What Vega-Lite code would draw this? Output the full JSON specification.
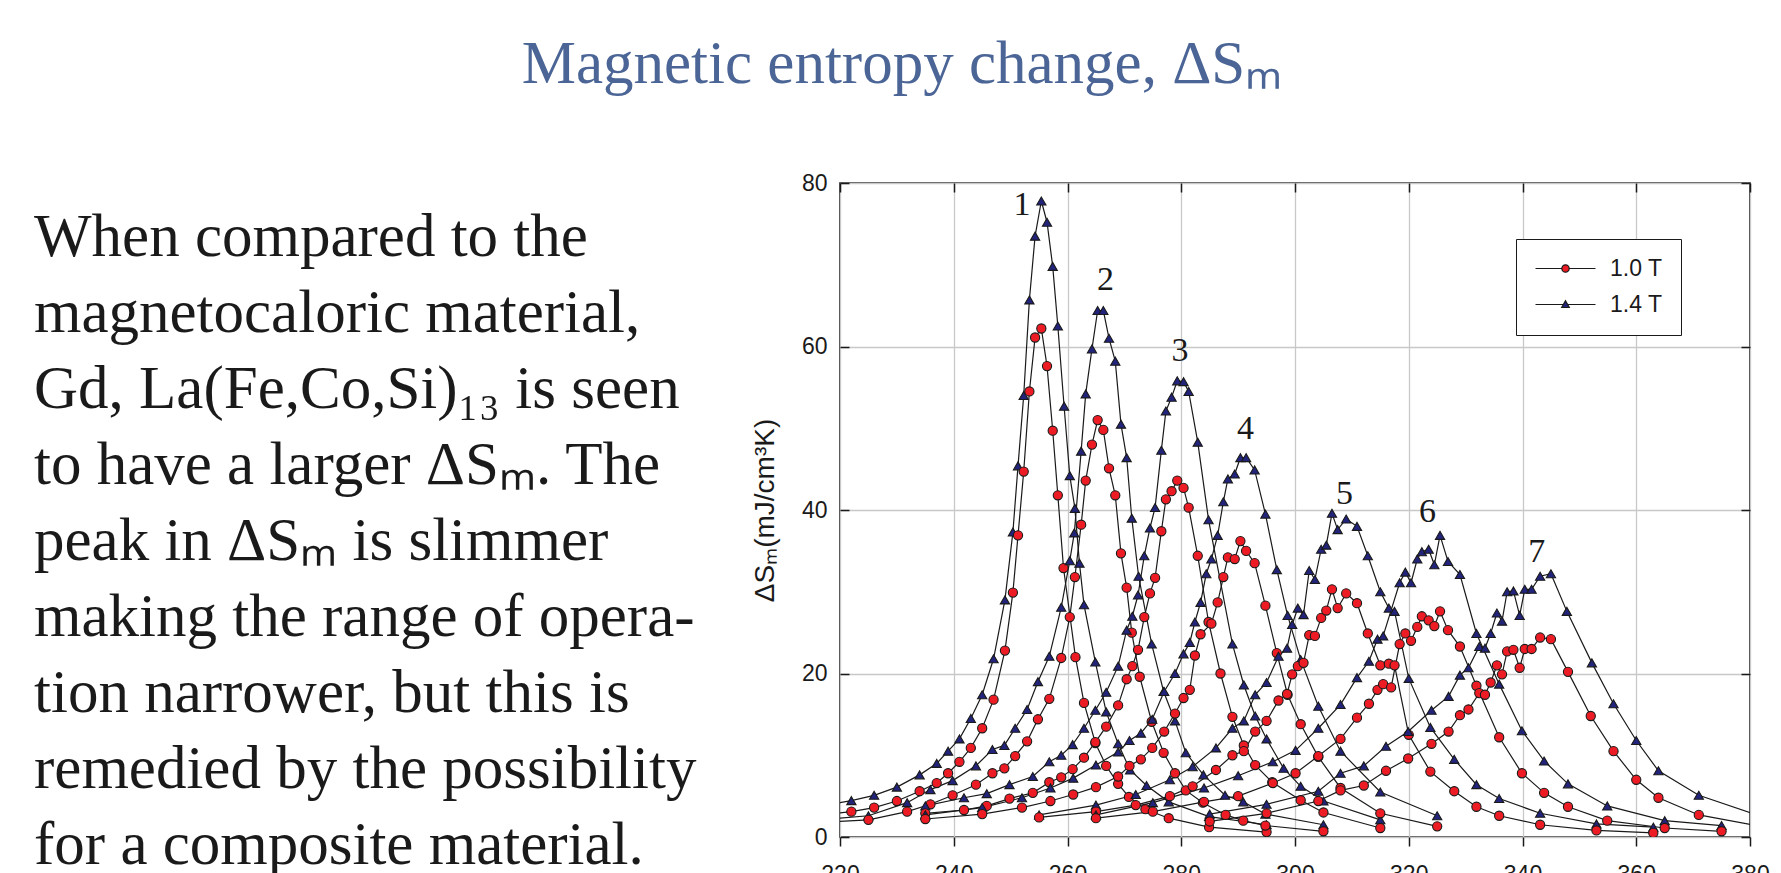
{
"$schema":"https://vega.github.io/schema/vega-lite/v6.json",
"padding":{"left":34,"top":34,"right":0,"bottom":0},
"background":"white",
"title":{"text":"Magnetic entropy change, ΔSₘ","font":"Liberation Serif","fontSize":61,"fontWeight":"normal","color":"#4b6596","anchor":"middle","offset":75},
"config":{"view":{"stroke":null},"concat":{"spacing":0}},
"datasets":{
"lines":[
{"n":1,"line":"When compared to the"},
{"n":2,"line":"magnetocaloric material,"},
{"n":3,"line":"Gd, La(Fe,Co,Si)₁₃ is seen"},
{"n":4,"line":"to have a larger ΔSₘ. The"},
{"n":5,"line":"peak in ΔSₘ is slimmer"},
{"n":6,"line":"making the range of opera-"},
{"n":7,"line":"tion narrower, but this is"},
{"n":8,"line":"remedied by the possibility"},
{"n":9,"line":"for a composite material."}
],
"peaks":[
{"k":"1","t":252.0,"v":77.3},{"k":"2","t":266.7,"v":68.1},{"k":"3","t":279.8,"v":59.4},{"k":"4","t":291.3,"v":49.9},{"k":"5","t":308.7,"v":42.0},{"k":"6","t":323.3,"v":39.7},{"k":"7","t":342.5,"v":34.9}
],
"curves":[
{"s":1,"f":"1.4 T","t":215,"v":3.6},{"s":1,"f":"1.4 T","t":222,"v":4.45},{"s":1,"f":"1.4 T","t":226,"v":5.1},{"s":1,"f":"1.4 T","t":230,"v":6.1},{"s":1,"f":"1.4 T","t":234,"v":7.6},{"s":1,"f":"1.4 T","t":237,"v":9.0},{"s":1,"f":"1.4 T","t":239,"v":10.5},{"s":1,"f":"1.4 T","t":241,"v":12.0},{"s":1,"f":"1.4 T","t":243,"v":14.5},{"s":1,"f":"1.4 T","t":245,"v":17.4},{"s":1,"f":"1.4 T","t":247,"v":21.8},{"s":1,"f":"1.4 T","t":249,"v":29.0},{"s":1,"f":"1.4 T","t":250.4,"v":37.3},{"s":1,"f":"1.4 T","t":251.3,"v":45.4},{"s":1,"f":"1.4 T","t":252.3,"v":54.0},{"s":1,"f":"1.4 T","t":253.3,"v":65.7},{"s":1,"f":"1.4 T","t":254.3,"v":73.5},{"s":1,"f":"1.4 T","t":255.4,"v":77.8},{"s":1,"f":"1.4 T","t":256.4,"v":75.2},{"s":1,"f":"1.4 T","t":257.4,"v":69.8},{"s":1,"f":"1.4 T","t":258.3,"v":62.5},{"s":1,"f":"1.4 T","t":259.4,"v":52.7},{"s":1,"f":"1.4 T","t":260.4,"v":44.2},{"s":1,"f":"1.4 T","t":261.3,"v":40.2},{"s":1,"f":"1.4 T","t":262.1,"v":33.5},{"s":1,"f":"1.4 T","t":262.9,"v":28.4},{"s":1,"f":"1.4 T","t":264.9,"v":21.4},{"s":1,"f":"1.4 T","t":266.8,"v":15.3},{"s":1,"f":"1.4 T","t":268.9,"v":11.4},{"s":1,"f":"1.4 T","t":271,"v":8.2},{"s":1,"f":"1.4 T","t":273.9,"v":6.3},{"s":1,"f":"1.4 T","t":277.8,"v":4.3},{"s":1,"f":"1.4 T","t":284.9,"v":2.5},{"s":1,"f":"1.4 T","t":295,"v":1.5},
{"s":1,"f":"1.0 T","t":215,"v":2.6},{"s":1,"f":"1.0 T","t":222,"v":3.1},{"s":1,"f":"1.0 T","t":226,"v":3.6},{"s":1,"f":"1.0 T","t":230,"v":4.4},{"s":1,"f":"1.0 T","t":234,"v":5.6},{"s":1,"f":"1.0 T","t":237,"v":6.6},{"s":1,"f":"1.0 T","t":239,"v":7.8},{"s":1,"f":"1.0 T","t":241,"v":9.2},{"s":1,"f":"1.0 T","t":243,"v":10.9},{"s":1,"f":"1.0 T","t":245,"v":13.3},{"s":1,"f":"1.0 T","t":247,"v":16.8},{"s":1,"f":"1.0 T","t":249,"v":22.8},{"s":1,"f":"1.0 T","t":250.4,"v":29.9},{"s":1,"f":"1.0 T","t":251.3,"v":36.9},{"s":1,"f":"1.0 T","t":252.3,"v":44.7},{"s":1,"f":"1.0 T","t":253.3,"v":54.5},{"s":1,"f":"1.0 T","t":254.3,"v":61.1},{"s":1,"f":"1.0 T","t":255.4,"v":62.2},{"s":1,"f":"1.0 T","t":256.4,"v":57.6},{"s":1,"f":"1.0 T","t":257.4,"v":49.7},{"s":1,"f":"1.0 T","t":258.3,"v":41.8},{"s":1,"f":"1.0 T","t":259.3,"v":32.9},{"s":1,"f":"1.0 T","t":261.4,"v":22.0},{"s":1,"f":"1.0 T","t":262.9,"v":16.4},{"s":1,"f":"1.0 T","t":264.9,"v":11.5},{"s":1,"f":"1.0 T","t":266.8,"v":8.7},{"s":1,"f":"1.0 T","t":268.9,"v":6.5},{"s":1,"f":"1.0 T","t":270.8,"v":4.9},{"s":1,"f":"1.0 T","t":273.7,"v":3.4},{"s":1,"f":"1.0 T","t":277.8,"v":2.3},{"s":1,"f":"1.0 T","t":284.9,"v":1.2},{"s":1,"f":"1.0 T","t":295,"v":0.6},
{"s":2,"f":"1.4 T","t":215,"v":2.0},{"s":2,"f":"1.4 T","t":225,"v":2.6},{"s":2,"f":"1.4 T","t":231.8,"v":4.2},{"s":2,"f":"1.4 T","t":235.9,"v":5.8},{"s":2,"f":"1.4 T","t":239.8,"v":6.9},{"s":2,"f":"1.4 T","t":243.9,"v":8.7},{"s":2,"f":"1.4 T","t":246.8,"v":10.7},{"s":2,"f":"1.4 T","t":248.9,"v":11.2},{"s":2,"f":"1.4 T","t":250.8,"v":13.3},{"s":2,"f":"1.4 T","t":252.9,"v":15.6},{"s":2,"f":"1.4 T","t":254.8,"v":19.0},{"s":2,"f":"1.4 T","t":256.8,"v":22.1},{"s":2,"f":"1.4 T","t":258.9,"v":28.1},{"s":2,"f":"1.4 T","t":260.4,"v":33.8},{"s":2,"f":"1.4 T","t":261.2,"v":37.2},{"s":2,"f":"1.4 T","t":262.4,"v":47.2},{"s":2,"f":"1.4 T","t":263.2,"v":54.2},{"s":2,"f":"1.4 T","t":264.3,"v":59.7},{"s":2,"f":"1.4 T","t":265.3,"v":64.4},{"s":2,"f":"1.4 T","t":266.3,"v":64.4},{"s":2,"f":"1.4 T","t":267.3,"v":61.0},{"s":2,"f":"1.4 T","t":268.4,"v":58.2},{"s":2,"f":"1.4 T","t":269.4,"v":50.5},{"s":2,"f":"1.4 T","t":270.4,"v":46.4},{"s":2,"f":"1.4 T","t":271.3,"v":39.0},{"s":2,"f":"1.4 T","t":272.5,"v":31.9},{"s":2,"f":"1.4 T","t":274.8,"v":23.6},{"s":2,"f":"1.4 T","t":276.9,"v":17.8},{"s":2,"f":"1.4 T","t":278.9,"v":14.2},{"s":2,"f":"1.4 T","t":280.8,"v":10.3},{"s":2,"f":"1.4 T","t":283.9,"v":7.6},{"s":2,"f":"1.4 T","t":287.7,"v":5.1},{"s":2,"f":"1.4 T","t":290.9,"v":4.3},{"s":2,"f":"1.4 T","t":294.8,"v":2.8},{"s":2,"f":"1.4 T","t":305,"v":1.5},
{"s":2,"f":"1.0 T","t":215,"v":1.7},{"s":2,"f":"1.0 T","t":225,"v":2.1},{"s":2,"f":"1.0 T","t":231.8,"v":3.1},{"s":2,"f":"1.0 T","t":235.9,"v":4.0},{"s":2,"f":"1.0 T","t":239.8,"v":5.1},{"s":2,"f":"1.0 T","t":243.9,"v":6.4},{"s":2,"f":"1.0 T","t":246.8,"v":7.8},{"s":2,"f":"1.0 T","t":248.9,"v":8.4},{"s":2,"f":"1.0 T","t":250.8,"v":9.9},{"s":2,"f":"1.0 T","t":252.9,"v":11.7},{"s":2,"f":"1.0 T","t":254.8,"v":14.4},{"s":2,"f":"1.0 T","t":256.8,"v":16.9},{"s":2,"f":"1.0 T","t":258.9,"v":21.9},{"s":2,"f":"1.0 T","t":260.4,"v":26.9},{"s":2,"f":"1.0 T","t":261.3,"v":31.8},{"s":2,"f":"1.0 T","t":262.4,"v":38.2},{"s":2,"f":"1.0 T","t":263.2,"v":43.6},{"s":2,"f":"1.0 T","t":264.3,"v":48.0},{"s":2,"f":"1.0 T","t":265.3,"v":51.0},{"s":2,"f":"1.0 T","t":266.3,"v":49.8},{"s":2,"f":"1.0 T","t":267.3,"v":45.1},{"s":2,"f":"1.0 T","t":268.4,"v":41.8},{"s":2,"f":"1.0 T","t":269.4,"v":34.7},{"s":2,"f":"1.0 T","t":270.4,"v":30.5},{"s":2,"f":"1.0 T","t":271.3,"v":25.0},{"s":2,"f":"1.0 T","t":272.7,"v":19.6},{"s":2,"f":"1.0 T","t":274.8,"v":14.1},{"s":2,"f":"1.0 T","t":276.9,"v":10.3},{"s":2,"f":"1.0 T","t":278.9,"v":7.8},{"s":2,"f":"1.0 T","t":280.8,"v":5.7},{"s":2,"f":"1.0 T","t":283.8,"v":4.2},{"s":2,"f":"1.0 T","t":287.8,"v":2.7},{"s":2,"f":"1.0 T","t":290.9,"v":2.0},{"s":2,"f":"1.0 T","t":294.8,"v":1.4},{"s":2,"f":"1.0 T","t":305,"v":0.7},
{"s":3,"f":"1.4 T","t":235,"v":3.8},{"s":3,"f":"1.4 T","t":241.8,"v":4.8},{"s":3,"f":"1.4 T","t":245.8,"v":5.3},{"s":3,"f":"1.4 T","t":249.8,"v":6.4},{"s":3,"f":"1.4 T","t":253.9,"v":7.4},{"s":3,"f":"1.4 T","t":256.8,"v":9.2},{"s":3,"f":"1.4 T","t":258.9,"v":10.0},{"s":3,"f":"1.4 T","t":260.9,"v":11.3},{"s":3,"f":"1.4 T","t":262.9,"v":13.3},{"s":3,"f":"1.4 T","t":264.9,"v":15.5},{"s":3,"f":"1.4 T","t":266.8,"v":17.7},{"s":3,"f":"1.4 T","t":268.9,"v":20.9},{"s":3,"f":"1.4 T","t":270.4,"v":25.3},{"s":3,"f":"1.4 T","t":271.4,"v":27.0},{"s":3,"f":"1.4 T","t":272.4,"v":29.6},{"s":3,"f":"1.4 T","t":273.5,"v":34.4},{"s":3,"f":"1.4 T","t":274.5,"v":37.8},{"s":3,"f":"1.4 T","t":275.4,"v":40.3},{"s":3,"f":"1.4 T","t":276.5,"v":47.3},{"s":3,"f":"1.4 T","t":277.3,"v":52.1},{"s":3,"f":"1.4 T","t":278.3,"v":53.8},{"s":3,"f":"1.4 T","t":279.3,"v":55.8},{"s":3,"f":"1.4 T","t":280.4,"v":55.7},{"s":3,"f":"1.4 T","t":281.3,"v":54.5},{"s":3,"f":"1.4 T","t":282.9,"v":48.3},{"s":3,"f":"1.4 T","t":284.8,"v":38.8},{"s":3,"f":"1.4 T","t":289,"v":23.6},{"s":3,"f":"1.4 T","t":291,"v":18.6},{"s":3,"f":"1.4 T","t":293,"v":14.8},{"s":3,"f":"1.4 T","t":295,"v":12.0},{"s":3,"f":"1.4 T","t":298,"v":8.4},{"s":3,"f":"1.4 T","t":301,"v":6.2},{"s":3,"f":"1.4 T","t":305,"v":4.4},{"s":3,"f":"1.4 T","t":315,"v":2.1},
{"s":3,"f":"1.0 T","t":235,"v":2.9},{"s":3,"f":"1.0 T","t":241.8,"v":3.3},{"s":3,"f":"1.0 T","t":245.8,"v":3.8},{"s":3,"f":"1.0 T","t":249.8,"v":4.7},{"s":3,"f":"1.0 T","t":253.9,"v":5.4},{"s":3,"f":"1.0 T","t":256.8,"v":6.7},{"s":3,"f":"1.0 T","t":258.9,"v":7.3},{"s":3,"f":"1.0 T","t":260.9,"v":8.3},{"s":3,"f":"1.0 T","t":262.9,"v":9.7},{"s":3,"f":"1.0 T","t":264.9,"v":11.6},{"s":3,"f":"1.0 T","t":266.8,"v":13.5},{"s":3,"f":"1.0 T","t":268.9,"v":16.1},{"s":3,"f":"1.0 T","t":270.4,"v":19.3},{"s":3,"f":"1.0 T","t":271.4,"v":20.9},{"s":3,"f":"1.0 T","t":272.4,"v":22.9},{"s":3,"f":"1.0 T","t":273.5,"v":26.9},{"s":3,"f":"1.0 T","t":274.5,"v":29.8},{"s":3,"f":"1.0 T","t":275.4,"v":31.7},{"s":3,"f":"1.0 T","t":276.5,"v":37.4},{"s":3,"f":"1.0 T","t":277.3,"v":41.3},{"s":3,"f":"1.0 T","t":278.3,"v":42.3},{"s":3,"f":"1.0 T","t":279.3,"v":43.6},{"s":3,"f":"1.0 T","t":280.4,"v":42.7},{"s":3,"f":"1.0 T","t":281.3,"v":40.3},{"s":3,"f":"1.0 T","t":282.9,"v":34.4},{"s":3,"f":"1.0 T","t":284.8,"v":26.3},{"s":3,"f":"1.0 T","t":286.9,"v":20.0},{"s":3,"f":"1.0 T","t":289,"v":14.7},{"s":3,"f":"1.0 T","t":291,"v":11.2},{"s":3,"f":"1.0 T","t":293,"v":8.8},{"s":3,"f":"1.0 T","t":296,"v":6.7},{"s":3,"f":"1.0 T","t":301,"v":4.5},{"s":3,"f":"1.0 T","t":305,"v":3.0},{"s":3,"f":"1.0 T","t":315,"v":1.1},
{"s":4,"f":"1.4 T","t":235,"v":2.7},{"s":4,"f":"1.4 T","t":245,"v":3.6},{"s":4,"f":"1.4 T","t":252,"v":4.8},{"s":4,"f":"1.4 T","t":257,"v":6.0},{"s":4,"f":"1.4 T","t":261,"v":7.2},{"s":4,"f":"1.4 T","t":265,"v":8.8},{"s":4,"f":"1.4 T","t":268.9,"v":10.4},{"s":4,"f":"1.4 T","t":270.9,"v":11.8},{"s":4,"f":"1.4 T","t":272.9,"v":12.7},{"s":4,"f":"1.4 T","t":274.9,"v":14.4},{"s":4,"f":"1.4 T","t":277,"v":17.8},{"s":4,"f":"1.4 T","t":278.9,"v":20.0},{"s":4,"f":"1.4 T","t":280.4,"v":22.4},{"s":4,"f":"1.4 T","t":281.5,"v":23.8},{"s":4,"f":"1.4 T","t":282.4,"v":26.3},{"s":4,"f":"1.4 T","t":283.4,"v":28.7},{"s":4,"f":"1.4 T","t":284.4,"v":32.2},{"s":4,"f":"1.4 T","t":285.3,"v":34.0},{"s":4,"f":"1.4 T","t":286.4,"v":36.9},{"s":4,"f":"1.4 T","t":287.4,"v":41.0},{"s":4,"f":"1.4 T","t":288.2,"v":43.8},{"s":4,"f":"1.4 T","t":289.4,"v":44.4},{"s":4,"f":"1.4 T","t":290.4,"v":46.4},{"s":4,"f":"1.4 T","t":291.4,"v":46.4},{"s":4,"f":"1.4 T","t":292.9,"v":44.9},{"s":4,"f":"1.4 T","t":294.8,"v":39.5},{"s":4,"f":"1.4 T","t":296.8,"v":32.7},{"s":4,"f":"1.4 T","t":298.7,"v":27.1},{"s":4,"f":"1.4 T","t":301,"v":21.7},{"s":4,"f":"1.4 T","t":304.1,"v":16.0},{"s":4,"f":"1.4 T","t":308,"v":10.5},{"s":4,"f":"1.4 T","t":315,"v":5.5},{"s":4,"f":"1.4 T","t":325,"v":2.6},
{"s":4,"f":"1.0 T","t":235,"v":2.2},{"s":4,"f":"1.0 T","t":245,"v":2.8},{"s":4,"f":"1.0 T","t":252,"v":3.6},{"s":4,"f":"1.0 T","t":257,"v":4.4},{"s":4,"f":"1.0 T","t":261,"v":5.2},{"s":4,"f":"1.0 T","t":265,"v":6.1},{"s":4,"f":"1.0 T","t":268.9,"v":7.4},{"s":4,"f":"1.0 T","t":270.9,"v":8.7},{"s":4,"f":"1.0 T","t":272.9,"v":9.5},{"s":4,"f":"1.0 T","t":274.9,"v":10.9},{"s":4,"f":"1.0 T","t":277,"v":12.9},{"s":4,"f":"1.0 T","t":278.9,"v":15.1},{"s":4,"f":"1.0 T","t":280.4,"v":17.0},{"s":4,"f":"1.0 T","t":281.5,"v":18.0},{"s":4,"f":"1.0 T","t":282.4,"v":22.2},{"s":4,"f":"1.0 T","t":283.4,"v":24.8},{"s":4,"f":"1.0 T","t":285.3,"v":26.1},{"s":4,"f":"1.0 T","t":286.4,"v":28.7},{"s":4,"f":"1.0 T","t":287.4,"v":31.8},{"s":4,"f":"1.0 T","t":288.2,"v":34.2},{"s":4,"f":"1.0 T","t":289.4,"v":34.0},{"s":4,"f":"1.0 T","t":290.4,"v":36.2},{"s":4,"f":"1.0 T","t":291.4,"v":35.0},{"s":4,"f":"1.0 T","t":292.9,"v":33.5},{"s":4,"f":"1.0 T","t":294.8,"v":28.3},{"s":4,"f":"1.0 T","t":296.8,"v":22.5},{"s":4,"f":"1.0 T","t":298.7,"v":17.4},{"s":4,"f":"1.0 T","t":301,"v":13.8},{"s":4,"f":"1.0 T","t":304.1,"v":9.8},{"s":4,"f":"1.0 T","t":308,"v":6.0},{"s":4,"f":"1.0 T","t":315,"v":2.9},{"s":4,"f":"1.0 T","t":325,"v":1.3},
{"s":5,"f":"1.4 T","t":255,"v":2.7},{"s":5,"f":"1.4 T","t":265,"v":3.9},{"s":5,"f":"1.4 T","t":272,"v":5.2},{"s":5,"f":"1.4 T","t":278,"v":7.0},{"s":5,"f":"1.4 T","t":282,"v":8.6},{"s":5,"f":"1.4 T","t":286.1,"v":10.9},{"s":5,"f":"1.4 T","t":289,"v":13.3},{"s":5,"f":"1.4 T","t":291,"v":14.2},{"s":5,"f":"1.4 T","t":293,"v":17.4},{"s":5,"f":"1.4 T","t":295,"v":18.9},{"s":5,"f":"1.4 T","t":297.1,"v":22.1},{"s":5,"f":"1.4 T","t":298.6,"v":23.1},{"s":5,"f":"1.4 T","t":299.5,"v":26.0},{"s":5,"f":"1.4 T","t":300.5,"v":28.0},{"s":5,"f":"1.4 T","t":301.5,"v":27.2},{"s":5,"f":"1.4 T","t":302.5,"v":32.6},{"s":5,"f":"1.4 T","t":303.5,"v":31.5},{"s":5,"f":"1.4 T","t":304.6,"v":35.2},{"s":5,"f":"1.4 T","t":305.5,"v":35.7},{"s":5,"f":"1.4 T","t":306.5,"v":39.6},{"s":5,"f":"1.4 T","t":307.5,"v":37.6},{"s":5,"f":"1.4 T","t":309,"v":38.9},{"s":5,"f":"1.4 T","t":310.9,"v":38.0},{"s":5,"f":"1.4 T","t":312.8,"v":34.4},{"s":5,"f":"1.4 T","t":315,"v":30.0},{"s":5,"f":"1.4 T","t":316.5,"v":28.0},{"s":5,"f":"1.4 T","t":317.5,"v":27.6},{"s":5,"f":"1.4 T","t":320,"v":19.4},{"s":5,"f":"1.4 T","t":323.8,"v":13.4},{"s":5,"f":"1.4 T","t":328,"v":9.5},{"s":5,"f":"1.4 T","t":331.9,"v":6.4},{"s":5,"f":"1.4 T","t":335.9,"v":4.7},{"s":5,"f":"1.4 T","t":343.1,"v":2.9},{"s":5,"f":"1.4 T","t":353,"v":1.6},{"s":5,"f":"1.4 T","t":363,"v":1.2},
{"s":5,"f":"1.0 T","t":255,"v":2.4},{"s":5,"f":"1.0 T","t":265,"v":3.1},{"s":5,"f":"1.0 T","t":272,"v":3.9},{"s":5,"f":"1.0 T","t":278,"v":5.0},{"s":5,"f":"1.0 T","t":282,"v":6.2},{"s":5,"f":"1.0 T","t":286.1,"v":8.2},{"s":5,"f":"1.0 T","t":289,"v":10.0},{"s":5,"f":"1.0 T","t":291,"v":10.5},{"s":5,"f":"1.0 T","t":293,"v":12.9},{"s":5,"f":"1.0 T","t":295,"v":14.2},{"s":5,"f":"1.0 T","t":297.1,"v":16.7},{"s":5,"f":"1.0 T","t":298.6,"v":17.5},{"s":5,"f":"1.0 T","t":299.5,"v":19.9},{"s":5,"f":"1.0 T","t":300.5,"v":20.9},{"s":5,"f":"1.0 T","t":301.5,"v":21.3},{"s":5,"f":"1.0 T","t":302.5,"v":24.7},{"s":5,"f":"1.0 T","t":303.5,"v":24.6},{"s":5,"f":"1.0 T","t":304.6,"v":26.8},{"s":5,"f":"1.0 T","t":305.5,"v":27.7},{"s":5,"f":"1.0 T","t":306.5,"v":30.3},{"s":5,"f":"1.0 T","t":307.5,"v":28.0},{"s":5,"f":"1.0 T","t":309,"v":29.8},{"s":5,"f":"1.0 T","t":310.9,"v":28.6},{"s":5,"f":"1.0 T","t":312.8,"v":24.9},{"s":5,"f":"1.0 T","t":315,"v":21.0},{"s":5,"f":"1.0 T","t":316.5,"v":21.2},{"s":5,"f":"1.0 T","t":317.5,"v":21.0},{"s":5,"f":"1.0 T","t":320,"v":12.5},{"s":5,"f":"1.0 T","t":323.8,"v":8.0},{"s":5,"f":"1.0 T","t":328,"v":5.6},{"s":5,"f":"1.0 T","t":331.9,"v":3.7},{"s":5,"f":"1.0 T","t":335.9,"v":2.6},{"s":5,"f":"1.0 T","t":343.1,"v":1.5},{"s":5,"f":"1.0 T","t":353,"v":0.8},{"s":5,"f":"1.0 T","t":363,"v":0.5},
{"s":6,"f":"1.4 T","t":265,"v":2.7},{"s":6,"f":"1.4 T","t":275,"v":4.2},{"s":6,"f":"1.4 T","t":284,"v":6.0},{"s":6,"f":"1.4 T","t":290,"v":7.5},{"s":6,"f":"1.4 T","t":296.1,"v":9.2},{"s":6,"f":"1.4 T","t":300.1,"v":10.6},{"s":6,"f":"1.4 T","t":304.1,"v":13.3},{"s":6,"f":"1.4 T","t":308,"v":16.2},{"s":6,"f":"1.4 T","t":310.9,"v":19.5},{"s":6,"f":"1.4 T","t":313,"v":21.5},{"s":6,"f":"1.4 T","t":314.5,"v":24.2},{"s":6,"f":"1.4 T","t":315.5,"v":24.6},{"s":6,"f":"1.4 T","t":318.4,"v":31.1},{"s":6,"f":"1.4 T","t":319.4,"v":32.4},{"s":6,"f":"1.4 T","t":320.4,"v":31.1},{"s":6,"f":"1.4 T","t":321.5,"v":34.0},{"s":6,"f":"1.4 T","t":322.3,"v":34.9},{"s":6,"f":"1.4 T","t":323.5,"v":35.2},{"s":6,"f":"1.4 T","t":324.5,"v":33.3},{"s":6,"f":"1.4 T","t":325.5,"v":36.9},{"s":6,"f":"1.4 T","t":326.9,"v":33.7},{"s":6,"f":"1.4 T","t":329,"v":32.1},{"s":6,"f":"1.4 T","t":331.9,"v":24.9},{"s":6,"f":"1.4 T","t":335.9,"v":18.7},{"s":6,"f":"1.4 T","t":339.9,"v":13.0},{"s":6,"f":"1.4 T","t":343.8,"v":9.3},{"s":6,"f":"1.4 T","t":348,"v":6.5},{"s":6,"f":"1.4 T","t":354.9,"v":3.8},{"s":6,"f":"1.4 T","t":365,"v":2.0},{"s":6,"f":"1.4 T","t":375,"v":1.4},
{"s":6,"f":"1.0 T","t":265,"v":2.3},{"s":6,"f":"1.0 T","t":275,"v":3.1},{"s":6,"f":"1.0 T","t":284,"v":4.3},{"s":6,"f":"1.0 T","t":290,"v":5.0},{"s":6,"f":"1.0 T","t":296.1,"v":6.6},{"s":6,"f":"1.0 T","t":300.1,"v":7.8},{"s":6,"f":"1.0 T","t":304.1,"v":9.9},{"s":6,"f":"1.0 T","t":308,"v":12.0},{"s":6,"f":"1.0 T","t":310.9,"v":14.6},{"s":6,"f":"1.0 T","t":313,"v":16.3},{"s":6,"f":"1.0 T","t":314.5,"v":18.0},{"s":6,"f":"1.0 T","t":315.5,"v":18.7},{"s":6,"f":"1.0 T","t":316.9,"v":18.3},{"s":6,"f":"1.0 T","t":318.4,"v":23.6},{"s":6,"f":"1.0 T","t":319.4,"v":24.9},{"s":6,"f":"1.0 T","t":320.4,"v":24.0},{"s":6,"f":"1.0 T","t":321.5,"v":25.7},{"s":6,"f":"1.0 T","t":322.3,"v":27.0},{"s":6,"f":"1.0 T","t":323.5,"v":26.5},{"s":6,"f":"1.0 T","t":324.5,"v":25.8},{"s":6,"f":"1.0 T","t":325.5,"v":27.6},{"s":6,"f":"1.0 T","t":326.9,"v":25.3},{"s":6,"f":"1.0 T","t":329,"v":23.3},{"s":6,"f":"1.0 T","t":331.9,"v":18.5},{"s":6,"f":"1.0 T","t":335.9,"v":12.2},{"s":6,"f":"1.0 T","t":339.9,"v":7.8},{"s":6,"f":"1.0 T","t":343.8,"v":5.4},{"s":6,"f":"1.0 T","t":348,"v":3.7},{"s":6,"f":"1.0 T","t":354.9,"v":2.0},{"s":6,"f":"1.0 T","t":365,"v":1.1},{"s":6,"f":"1.0 T","t":375,"v":0.7},
{"s":7,"f":"1.4 T","t":285,"v":2.8},{"s":7,"f":"1.4 T","t":295,"v":4.0},{"s":7,"f":"1.4 T","t":304.1,"v":5.6},{"s":7,"f":"1.4 T","t":308,"v":7.8},{"s":7,"f":"1.4 T","t":312.1,"v":8.7},{"s":7,"f":"1.4 T","t":316,"v":11.1},{"s":7,"f":"1.4 T","t":319.9,"v":12.9},{"s":7,"f":"1.4 T","t":324,"v":15.5},{"s":7,"f":"1.4 T","t":327,"v":17.2},{"s":7,"f":"1.4 T","t":329,"v":19.8},{"s":7,"f":"1.4 T","t":330.5,"v":20.7},{"s":7,"f":"1.4 T","t":332.4,"v":23.3},{"s":7,"f":"1.4 T","t":333.4,"v":23.1},{"s":7,"f":"1.4 T","t":334.4,"v":24.9},{"s":7,"f":"1.4 T","t":335.5,"v":27.4},{"s":7,"f":"1.4 T","t":336.4,"v":26.4},{"s":7,"f":"1.4 T","t":337.3,"v":30.0},{"s":7,"f":"1.4 T","t":338.4,"v":30.1},{"s":7,"f":"1.4 T","t":339.5,"v":27.1},{"s":7,"f":"1.4 T","t":340.4,"v":30.3},{"s":7,"f":"1.4 T","t":341.6,"v":30.3},{"s":7,"f":"1.4 T","t":343.1,"v":31.9},{"s":7,"f":"1.4 T","t":345,"v":32.2},{"s":7,"f":"1.4 T","t":347.8,"v":27.6},{"s":7,"f":"1.4 T","t":352.2,"v":21.3},{"s":7,"f":"1.4 T","t":356,"v":16.3},{"s":7,"f":"1.4 T","t":360,"v":11.8},{"s":7,"f":"1.4 T","t":363.9,"v":8.1},{"s":7,"f":"1.4 T","t":371,"v":5.1},{"s":7,"f":"1.4 T","t":385,"v":1.8},
{"s":7,"f":"1.0 T","t":285,"v":1.9},{"s":7,"f":"1.0 T","t":295,"v":2.9},{"s":7,"f":"1.0 T","t":304.1,"v":4.4},{"s":7,"f":"1.0 T","t":308,"v":5.7},{"s":7,"f":"1.0 T","t":312.1,"v":6.3},{"s":7,"f":"1.0 T","t":316,"v":8.1},{"s":7,"f":"1.0 T","t":319.9,"v":9.6},{"s":7,"f":"1.0 T","t":324,"v":11.4},{"s":7,"f":"1.0 T","t":327,"v":12.9},{"s":7,"f":"1.0 T","t":329,"v":14.9},{"s":7,"f":"1.0 T","t":330.5,"v":15.6},{"s":7,"f":"1.0 T","t":332.4,"v":17.6},{"s":7,"f":"1.0 T","t":333.4,"v":17.4},{"s":7,"f":"1.0 T","t":334.4,"v":18.9},{"s":7,"f":"1.0 T","t":335.5,"v":21.0},{"s":7,"f":"1.0 T","t":336.4,"v":19.9},{"s":7,"f":"1.0 T","t":337.3,"v":22.7},{"s":7,"f":"1.0 T","t":338.4,"v":22.9},{"s":7,"f":"1.0 T","t":339.5,"v":20.7},{"s":7,"f":"1.0 T","t":340.4,"v":23.0},{"s":7,"f":"1.0 T","t":341.6,"v":23.0},{"s":7,"f":"1.0 T","t":343.1,"v":24.4},{"s":7,"f":"1.0 T","t":345,"v":24.2},{"s":7,"f":"1.0 T","t":348,"v":20.2},{"s":7,"f":"1.0 T","t":352,"v":14.8},{"s":7,"f":"1.0 T","t":356,"v":10.5},{"s":7,"f":"1.0 T","t":360,"v":7.0},{"s":7,"f":"1.0 T","t":363.9,"v":4.8},{"s":7,"f":"1.0 T","t":371,"v":2.7},{"s":7,"f":"1.0 T","t":385,"v":0.9}
]
},
"hconcat":[
{
"width":716,"height":730,
"data":{"name":"lines"},
"mark":{"type":"text","align":"left","baseline":"alphabetic","font":"Liberation Serif","fontSize":61,"color":"#1a1a1a"},
"encoding":{
"x":{"value":0},
"y":{"field":"n","type":"quantitative","scale":{"domain":[0.045,9.645],"reverse":true},"axis":null},
"text":{"field":"line"}
}
},
{
"width":910,"height":654,
"view":{"stroke":"#1a1a1a","strokeWidth":1.6},
"data":{"name":"curves"},
"resolve":{"axis":{"x":"independent","y":"independent"}},
"layer":[
{
"mark":{"type":"line","color":"#1a1a1a","strokeWidth":1.2,"clip":true},
"encoding":{
"x":{"field":"t","type":"quantitative","scale":{"domain":[220,380],"nice":false,"zero":false},
"axis":{"orient":"bottom","values":[220,240,260,280,300,320,340,360,380],"title":null,"domain":false,"grid":true,"gridColor":"#c8c8c8","gridWidth":1.3,"tickSize":9,"tickColor":"#1a1a1a","tickWidth":1.5,"labelFont":"Liberation Sans","labelFontSize":23,"labelColor":"#1a1a1a","labelPadding":17,"labelFlush":false}},
"y":{"field":"v","type":"quantitative","scale":{"domain":[0,80],"nice":false},
"axis":{"orient":"left","values":[0,20,40,60,80],"title":"ΔSₘ(mJ/cm³K)","titleFont":"Liberation Sans","titleFontSize":28,"titleFontWeight":"normal","titleColor":"#1a1a1a","titlePadding":22,"domain":false,"grid":true,"gridColor":"#c8c8c8","gridWidth":1.3,"tickSize":-9,"tickColor":"#1a1a1a","tickWidth":1.5,"labelFont":"Liberation Sans","labelFontSize":23,"labelColor":"#1a1a1a","labelPadding":22}},
"detail":[{"field":"s"},{"field":"f"}]
}
},
{
"mark":{"type":"point","filled":true,"opacity":1,"size":85,"stroke":"#1a1a1a","strokeWidth":1.1,"clip":true},
"encoding":{
"x":{"field":"t","type":"quantitative","axis":{"orient":"top","values":[220,240,260,280,300,320,340,360,380],"labels":false,"title":null,"domain":false,"grid":false,"tickSize":-9,"tickColor":"#1a1a1a","tickWidth":1.5}},
"y":{"field":"v","type":"quantitative","axis":{"orient":"right","values":[0,20,40,60,80],"labels":false,"title":null,"domain":false,"grid":false,"tickSize":-9,"tickColor":"#1a1a1a","tickWidth":1.5}},
"fill":{"field":"f","type":"nominal","scale":{"domain":["1.0 T","1.4 T"],"range":["#ed1c24","#22237a"]},
"legend":{"title":null,"orient":"none","legendX":1482,"legendY":56,"fillColor":"white","strokeColor":"#1a1a1a","padding":18,"labelFont":"Liberation Sans","labelFontSize":23,"labelColor":"#1a1a1a","symbolSize":400,"labelOffset":53,"rowPadding":12,"symbolStrokeColor":"#1a1a1a","symbolStrokeWidth":1.2,
"symbolType":{"expr":"datum.value === '1.0 T' ? 'M-1,0L1.63,0M2.37,0L5,0M2.37,0A0.37,0.37,0,1,1,1.63,0A0.37,0.37,0,1,1,2.37,0Z' : 'M-1,0L1.78,0M2.22,0L5,0M2,-0.38L2.38,0.3L1.62,0.3Z'"}}},
"shape":{"field":"f","type":"nominal","scale":{"domain":["1.4 T","1.0 T"],"range":["triangle-up","circle"]},"legend":null}
}
},
{
"data":{"name":"peaks"},
"mark":{"type":"text","font":"Liberation Serif","fontSize":34,"align":"center","baseline":"middle","color":"#1a1a1a"},
"encoding":{
"x":{"field":"t","type":"quantitative","axis":null},
"y":{"field":"v","type":"quantitative","axis":null},
"text":{"field":"k"}
}
}
]
}
]
}
